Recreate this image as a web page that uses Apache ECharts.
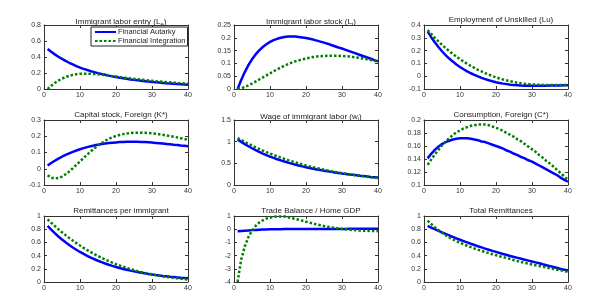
<!DOCTYPE html>
<html>
<head>
<meta charset="utf-8">
<script src="https://cdn.jsdelivr.net/npm/echarts@6/dist/echarts.min.js"></script>
<style>
  html, body { margin: 0; padding: 0; background: #fff; }
  #main { width: 600px; height: 302px; }
</style>
</head>
<body>
<div id="main"></div>
<script>
// quarters after the shock
var periods = [1, 2, 3, 4, 5, 6, 7, 8, 9, 10, 11, 12, 13, 14, 15, 16, 17, 18, 19, 20,
    21, 22, 23, 24, 25, 26, 27, 28, 29, 30, 31, 32, 33, 34, 35, 36, 37, 38, 39, 40];

var seriesNames = ['Financial Autarky', 'Financial Integration'];

var panelTitles = [
    'Immigrant labor entry (L{sub|e})',
    'Immigrant labor stock (L{sub|i})',
    'Employment of Unskilled (Lu)',
    'Capital stock, Foreign (K*)',
    'Wage of immigrant labor (w{sub|i})',
    'Consumption, Foreign (C*)',
    'Remittances per immigrant',
    'Trade Balance / Home GDP',
    'Total Remittances'
];

// y ticks: [min, max, step]
var yTicks = [
    [0, 0.8, 0.2], [0, 0.25, 0.05], [-0.1, 0.4, 0.1],
    [-0.1, 0.3, 0.1], [0, 1.5, 0.5], [0.1, 0.2, 0.02],
    [0, 1, 0.2], [-4, 1, 1], [0, 1, 0.2]
];
var xTicks = [0, 40, 10];

// Immigrant labor entry
var leAutarky = [0.50, 0.465, 0.433, 0.403, 0.376, 0.351, 0.328, 0.307, 0.287, 0.268, 0.252, 0.237, 0.223, 0.21, 0.198, 0.187, 0.177, 0.167, 0.158, 0.149,
    0.141, 0.134, 0.127, 0.12, 0.114, 0.108, 0.103, 0.098, 0.093, 0.088, 0.084, 0.08, 0.076, 0.072, 0.069, 0.066, 0.063, 0.06, 0.057, 0.054];
var leIntegration = [0, 0.04, 0.075, 0.105, 0.13, 0.15, 0.165, 0.177, 0.185, 0.19, 0.192, 0.192, 0.19, 0.187, 0.183, 0.178, 0.173, 0.167, 0.161, 0.155,
    0.149, 0.143, 0.137, 0.131, 0.126, 0.121, 0.116, 0.111, 0.106, 0.102, 0.098, 0.094, 0.09, 0.086, 0.083, 0.079, 0.076, 0.073, 0.07, 0.067];

// Immigrant labor stock
var liAutarky = [0, 0.035, 0.066, 0.093, 0.116, 0.135, 0.151, 0.164, 0.175, 0.184, 0.191, 0.196, 0.2, 0.203, 0.205, 0.205, 0.205, 0.203, 0.201, 0.199,
    0.196, 0.193, 0.189, 0.185, 0.181, 0.177, 0.172, 0.167, 0.162, 0.158, 0.153, 0.148, 0.143, 0.138, 0.133, 0.128, 0.123, 0.118, 0.113, 0.108];
var liIntegration = [0, 0.003, 0.008, 0.014, 0.021, 0.029, 0.037, 0.045, 0.053, 0.061, 0.069, 0.077, 0.084, 0.091, 0.097, 0.103, 0.108, 0.112, 0.116, 0.119,
    0.122, 0.125, 0.127, 0.128, 0.129, 0.13, 0.13, 0.13, 0.13, 0.129, 0.128, 0.127, 0.125, 0.123, 0.121, 0.119, 0.116, 0.113, 0.11, 0.107];

// Employment of unskilled
var luAutarky = [0.35, 0.305, 0.265, 0.228, 0.195, 0.165, 0.138, 0.114, 0.092, 0.072, 0.054, 0.038, 0.023, 0.01, -0.002, -0.013, -0.023, -0.032, -0.04, -0.047,
    -0.053, -0.058, -0.062, -0.066, -0.069, -0.071, -0.073, -0.074, -0.075, -0.075, -0.075, -0.075, -0.074, -0.074, -0.073, -0.073, -0.072, -0.072, -0.071, -0.071];
var luIntegration = [0.36, 0.33, 0.3, 0.272, 0.245, 0.22, 0.196, 0.174, 0.153, 0.133, 0.114, 0.097, 0.08, 0.065, 0.05, 0.037, 0.024, 0.012, 0.001, -0.009,
    -0.018, -0.026, -0.033, -0.04, -0.046, -0.051, -0.055, -0.059, -0.062, -0.064, -0.066, -0.067, -0.068, -0.069, -0.069, -0.069, -0.069, -0.069, -0.068, -0.068];

// Capital stock, foreign
var kAutarky = [0.02, 0.035, 0.049, 0.062, 0.074, 0.085, 0.095, 0.104, 0.112, 0.12, 0.127, 0.133, 0.139, 0.144, 0.148, 0.152, 0.155, 0.158, 0.16, 0.162,
    0.164, 0.165, 0.166, 0.166, 0.166, 0.166, 0.165, 0.164, 0.163, 0.161, 0.159, 0.157, 0.155, 0.153, 0.151, 0.148, 0.146, 0.143, 0.141, 0.138];
var kIntegration = [-0.04, -0.055, -0.06, -0.057, -0.048, -0.034, -0.017, 0.003, 0.024, 0.045, 0.066, 0.087, 0.107, 0.126, 0.143, 0.158, 0.172, 0.184, 0.194, 0.202,
    0.208, 0.213, 0.217, 0.22, 0.221, 0.222, 0.222, 0.221, 0.22, 0.218, 0.215, 0.212, 0.209, 0.205, 0.201, 0.197, 0.193, 0.188, 0.183, 0.178];

// Wage of immigrant labor
var wAutarky = [1.05, 0.995, 0.943, 0.894, 0.848, 0.805, 0.764, 0.726, 0.69, 0.656, 0.625, 0.595, 0.567, 0.541, 0.516, 0.493, 0.471, 0.45, 0.43, 0.411,
    0.393, 0.376, 0.36, 0.345, 0.33, 0.316, 0.303, 0.29, 0.278, 0.266, 0.255, 0.244, 0.234, 0.224, 0.214, 0.205, 0.196, 0.187, 0.179, 0.171];
var wIntegration = [1.08, 1.04, 0.995, 0.952, 0.91, 0.87, 0.832, 0.795, 0.76, 0.726, 0.693, 0.662, 0.632, 0.603, 0.575, 0.548, 0.523, 0.498, 0.475, 0.452,
    0.43, 0.41, 0.39, 0.371, 0.353, 0.336, 0.319, 0.303, 0.288, 0.274, 0.26, 0.247, 0.234, 0.222, 0.21, 0.199, 0.188, 0.178, 0.168, 0.158];

// Consumption, foreign
var cAutarky = [0.141, 0.148, 0.154, 0.159, 0.163, 0.166, 0.168, 0.17, 0.171, 0.172, 0.172, 0.172, 0.171, 0.17, 0.169, 0.167, 0.166, 0.164, 0.162, 0.16,
    0.158, 0.156, 0.153, 0.151, 0.148, 0.146, 0.143, 0.141, 0.138, 0.136, 0.133, 0.13, 0.127, 0.124, 0.121, 0.118, 0.115, 0.111, 0.108, 0.105];
var cIntegration = [0.131, 0.139, 0.147, 0.154, 0.161, 0.167, 0.172, 0.177, 0.181, 0.184, 0.187, 0.189, 0.191, 0.192, 0.193, 0.193, 0.193, 0.192, 0.19, 0.188,
    0.186, 0.183, 0.18, 0.177, 0.174, 0.17, 0.167, 0.163, 0.159, 0.155, 0.151, 0.146, 0.142, 0.137, 0.133, 0.128, 0.123, 0.118, 0.113, 0.108];

// Remittances per immigrant
var rpiAutarky = [0.85, 0.793, 0.74, 0.69, 0.644, 0.601, 0.561, 0.523, 0.488, 0.455, 0.425, 0.396, 0.37, 0.345, 0.322, 0.3, 0.28, 0.261, 0.244, 0.228,
    0.212, 0.198, 0.185, 0.172, 0.161, 0.15, 0.14, 0.131, 0.122, 0.114, 0.106, 0.099, 0.092, 0.086, 0.08, 0.075, 0.07, 0.065, 0.061, 0.057];
var rpiIntegration = [0.95, 0.898, 0.848, 0.8, 0.754, 0.71, 0.668, 0.628, 0.589, 0.552, 0.517, 0.484, 0.452, 0.422, 0.393, 0.366, 0.34, 0.316, 0.293, 0.271,
    0.25, 0.231, 0.213, 0.196, 0.18, 0.165, 0.151, 0.138, 0.126, 0.115, 0.104, 0.094, 0.085, 0.077, 0.069, 0.062, 0.055, 0.049, 0.043, 0.038];

// Trade balance / home GDP
var tbAutarky = [-0.15, -0.13, -0.11, -0.09, -0.07, -0.055, -0.04, -0.03, -0.02, -0.01, -0.005, 0, 0.003, 0.006, 0.008, 0.01, 0.012, 0.013, 0.014, 0.015,
    0.016, 0.017, 0.018, 0.019, 0.02, 0.021, 0.022, 0.022, 0.023, 0.024, 0.024, 0.025, 0.026, 0.026, 0.027, 0.027, 0.028, 0.028, 0.029, 0.03];
var tbIntegration = [-4.0, -2.3, -1.3, -0.6, -0.1, 0.25, 0.5, 0.67, 0.8, 0.88, 0.93, 0.96, 0.97, 0.96, 0.9, 0.84, 0.78, 0.71, 0.64, 0.57,
    0.5, 0.43, 0.36, 0.3, 0.24, 0.19, 0.14, 0.1, 0.06, 0.02, -0.01, -0.04, -0.06, -0.08, -0.1, -0.11, -0.12, -0.13, -0.14, -0.15];

// Total remittances
var trAutarky = [0.85, 0.825, 0.8, 0.776, 0.752, 0.729, 0.706, 0.684, 0.662, 0.64, 0.62, 0.6, 0.58, 0.561, 0.542, 0.524, 0.506, 0.489, 0.472, 0.456,
    0.44, 0.424, 0.409, 0.394, 0.38, 0.366, 0.352, 0.338, 0.324, 0.31, 0.297, 0.283, 0.268, 0.254, 0.24, 0.226, 0.212, 0.198, 0.185, 0.172];
var trIntegration = [0.93, 0.878, 0.83, 0.786, 0.746, 0.71, 0.677, 0.647, 0.619, 0.594, 0.571, 0.549, 0.528, 0.508, 0.489, 0.471, 0.454, 0.437, 0.421, 0.406,
    0.391, 0.377, 0.363, 0.349, 0.33, 0.316, 0.302, 0.289, 0.276, 0.264, 0.253, 0.242, 0.231, 0.22, 0.209, 0.198, 0.187, 0.176, 0.165, 0.155];

var panelData = [
    [leAutarky, leIntegration], [liAutarky, liIntegration], [luAutarky, luIntegration],
    [kAutarky, kIntegration], [wAutarky, wIntegration], [cAutarky, cIntegration],
    [rpiAutarky, rpiIntegration], [tbAutarky, tbIntegration], [trAutarky, trIntegration]
];

// layout of the 3x3 boxes
var colLeft = [44, 234, 424];
var rowTop = [25, 120, 216];
var rowHeight = [64, 65, 66];
var boxWidth = 144;

var font = 'Liberation Sans, Arial, Helvetica, sans-serif';
var boxColor = '#333';

var grids = [], xAxes = [], yAxes = [], titles = [], series = [];

for (var i = 0; i < 9; i++) {
    var r = Math.floor(i / 3), c = i % 3;
    grids.push({
        left: colLeft[c], top: rowTop[r], width: boxWidth, height: rowHeight[r],
        show: true, borderWidth: 0, backgroundColor: '#fff'
    });
    titles.push({
        text: panelTitles[i],
        left: colLeft[c] + boxWidth / 2,
        top: rowTop[r] - 14,
        textAlign: 'center',
        textStyle: {
            fontFamily: font, fontSize: 8, fontWeight: 'normal', color: '#222',
            rich: { sub: { fontSize: 6, fontFamily: font, color: '#222', padding: [5, 0, 0, 0] } }
        }
    });
    var axLine = { show: true, onZero: false, lineStyle: { color: boxColor, width: 1 } };
    var ticks = { show: true, inside: true, length: 3, lineStyle: { color: boxColor } };
    // bottom and top x axes
    xAxes.push({
        gridIndex: i, type: 'value', position: 'bottom',
        min: xTicks[0], max: xTicks[1], interval: xTicks[2],
        axisLine: axLine, axisTick: ticks, splitLine: { show: false },
        axisLabel: { fontFamily: font, fontSize: 7, color: '#333', margin: 3 }
    });
    xAxes.push({
        gridIndex: i, type: 'value', position: 'top',
        min: xTicks[0], max: xTicks[1], interval: xTicks[2],
        axisLine: axLine, axisTick: ticks, splitLine: { show: false },
        axisLabel: { show: false }
    });
    // left and right y axes
    yAxes.push({
        gridIndex: i, type: 'value', position: 'left',
        min: yTicks[i][0], max: yTicks[i][1], interval: yTicks[i][2],
        axisLine: axLine, axisTick: ticks, splitLine: { show: false },
        axisLabel: { fontFamily: font, fontSize: 7, color: '#333', margin: 3 }
    });
    yAxes.push({
        gridIndex: i, type: 'value', position: 'right',
        min: yTicks[i][0], max: yTicks[i][1], interval: yTicks[i][2],
        axisLine: axLine, axisTick: ticks, splitLine: { show: false },
        axisLabel: { show: false }
    });

    series.push({
        name: seriesNames[0], type: 'line', xAxisIndex: 2 * i, yAxisIndex: 2 * i,
        showSymbol: false, symbol: 'none', silent: true,
        data: periods.map(function (t, k) { return [t, panelData[i][0][k]]; }),
        lineStyle: { color: '#0000ff', width: 2.5 },
        itemStyle: { color: '#0000ff' }
    });
    series.push({
        name: seriesNames[1], type: 'line', xAxisIndex: 2 * i, yAxisIndex: 2 * i,
        showSymbol: false, symbol: 'none', silent: true,
        data: periods.map(function (t, k) { return [t, panelData[i][1][k]]; }),
        lineStyle: { color: '#007f00', width: 2.5, type: [2.5, 2] },
        itemStyle: { color: '#007f00' }
    });
}

var myChart = echarts.init(document.getElementById('main'));
var option = {
    animation: false,
    backgroundColor: '#fff',
    title: titles,
    legend: {
        data: seriesNames,
        orient: 'vertical',
        left: 91, top: 27,
        itemWidth: 21, itemHeight: 6, itemGap: 1,
        padding: [1, 2, 1, 3],
        borderColor: '#222', borderWidth: 1, backgroundColor: '#fff',
        itemStyle: { opacity: 0 },
        textStyle: { fontFamily: font, fontSize: 7.5, color: '#222', padding: [0, 0, 0, -3] }
    },
    grid: grids,
    xAxis: xAxes,
    yAxis: yAxes,
    series: series
};
myChart.setOption(option);
</script>
</body>
</html>
